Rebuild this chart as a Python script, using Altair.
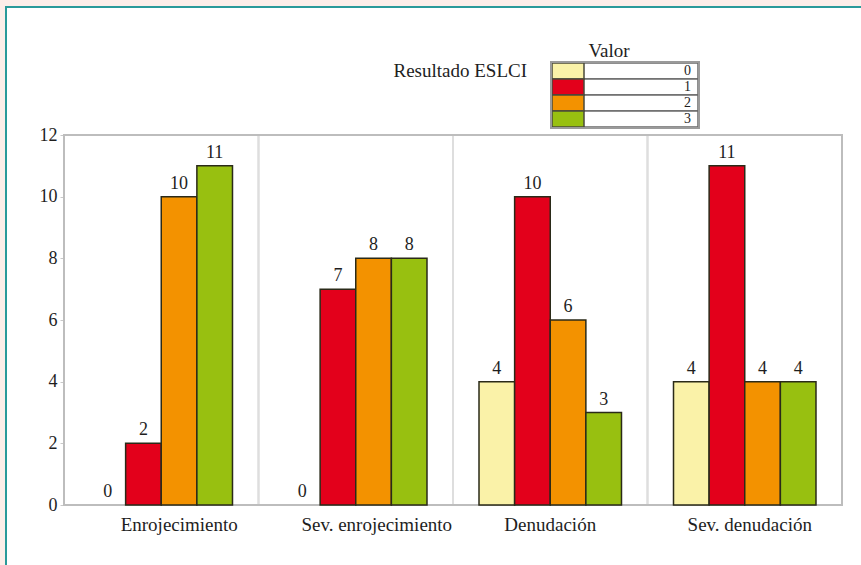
import altair as alt
import pandas as pd

# ESLCI result counts per category, one entry per value 0..3
categorias = ["Enrojecimiento", "Sev. enrojecimiento", "Denudación", "Sev. denudación"]
valores = [0, 1, 2, 3]
enrojecimiento = [0, 2, 10, 11]
sev_enrojecimiento = [0, 7, 8, 8]
denudacion = [4, 10, 6, 3]
sev_denudacion = [4, 11, 4, 4]
colores = ["#FAF2A8", "#E3001B", "#F39200", "#98C010"]
y_ticks = [0, 2, 4, 6, 8, 10, 12]

series = [enrojecimiento, sev_enrojecimiento, denudacion, sev_denudacion]
rows = []
for cat, serie in zip(categorias, series):
    for v, n in zip(valores, serie):
        rows.append({"categoria": cat, "valor": v, "n": n})
df = pd.DataFrame(rows)
legend_df = pd.DataFrame({"valor": valores})

W, H = 778, 370
FONT = "Liberation Serif"
INK = "#1e1e1e"

# small horizontal nudges of the category labels
label_shift = {"Enrojecimiento": 18, "Sev. enrojecimiento": 21, "Denudación": 0, "Sev. denudación": 5}
shift_expr = " : ".join(
    f"datum.value == '{k}' ? {v}" for k, v in label_shift.items()
) + " : 0"

x_enc = alt.X(
    "categoria:N", sort=categorias, title=None,
    scale=alt.Scale(paddingInner=0, paddingOuter=0),
    axis=alt.Axis(labelFont=FONT, labelFontSize=19, labelColor=INK, labelPadding=19,
                  labelAngle=0, labelAlign="center", bandPosition=0.5,
                  ticks=False, domain=False, grid=False,
                  labelOffset={"expr": shift_expr}),
)
xo_enc = alt.XOffset("valor:N", scale=alt.Scale(paddingOuter=0.73, paddingInner=0))
y_enc = alt.Y(
    "n:Q", title=None,
    scale=alt.Scale(domain=[0, 12], nice=False),
    axis=alt.Axis(values=y_ticks, labelFont=FONT, labelFontSize=18, labelColor=INK,
                  domain=False, grid=False, tickColor="#c8c8c8", tickSize=4,
                  labelPadding=3),
)
color_enc = alt.Color("valor:N", scale=alt.Scale(domain=valores, range=colores), legend=None)

one = alt.Data(values=[{}])

# page frame: pink margin and teal border line
pink_left = alt.Chart(one).mark_rect(color="#FCEEE9").encode(
    x=alt.value(-70), x2=alt.value(-58), y=alt.value(-140), y2=alt.value(H + 80))
pink_top = alt.Chart(one).mark_rect(color="#FCEEE9").encode(
    x=alt.value(-70), x2=alt.value(W + 40), y=alt.value(-140), y2=alt.value(-128))
teal_left = alt.Chart(one).mark_rect(color="#2A9A9A").encode(
    x=alt.value(-59), x2=alt.value(-57), y=alt.value(-129), y2=alt.value(H + 80))
teal_top = alt.Chart(one).mark_rect(color="#2A9A9A").encode(
    x=alt.value(-59), x2=alt.value(W + 40), y=alt.value(-129), y2=alt.value(-127))

# one outlined cell per category; the shared edges form the separators
cells = alt.Chart(pd.DataFrame({"categoria": categorias})).mark_rect(
    fill="white", fillOpacity=0, stroke="#dedede", strokeWidth=2
).encode(x=alt.X("categoria:N", sort=categorias), y=alt.value(0), y2=alt.value(H))

bars = alt.Chart(df).transform_filter("datum.n > 0").mark_bar(
    stroke="#2a2a18", strokeWidth=1.5
).encode(x=x_enc, xOffset=xo_enc, y=y_enc, color=color_enc)

labels = alt.Chart(df).mark_text(
    font=FONT, fontSize=18, color=INK, baseline="alphabetic", dy=-8
).encode(x=x_enc, xOffset=xo_enc, y=y_enc, text="n:Q")

frame = alt.Chart(one).mark_rect(fill="white", fillOpacity=0, stroke="#bdbdbd",
                                  strokeWidth=2).encode(
    x=alt.value(0), x2=alt.value(W), y=alt.value(0), y2=alt.value(H))

# legend box drawn from the value list
leg = alt.Chart(legend_df).transform_calculate(
    y0="-72 + 16 * datum.valor", y1="-56 + 16 * datum.valor", yt="-60 + 16 * datum.valor"
)
leg_rows = leg.mark_rect(fill="white", stroke="#6a6a6a", strokeWidth=1.5).encode(
    x=alt.value(488), x2=alt.value(634),
    y=alt.Y("y0:Q", scale=None, axis=None), y2="y1:Q",
)
leg_swatch = leg.mark_rect(stroke="#4a4a3a", strokeWidth=1.5).encode(
    x=alt.value(488), x2=alt.value(520),
    y=alt.Y("y0:Q", scale=None, axis=None), y2="y1:Q",
    color=color_enc,
)
leg_text = leg.mark_text(font=FONT, fontSize=14, color=INK, align="right",
                         baseline="alphabetic").encode(
    x=alt.value(627), y=alt.Y("yt:Q", scale=None, axis=None), text="valor:N",
)
leg_border = alt.Chart(one).mark_rect(fill="white", fillOpacity=0, stroke="#9a9a9a",
                                       strokeWidth=2).encode(
    x=alt.value(487), x2=alt.value(635), y=alt.value(-73), y2=alt.value(-7))
leg_title = alt.Chart(one).mark_text(font=FONT, fontSize=19, color=INK, align="center",
                                      baseline="alphabetic", text="Valor").encode(
    x=alt.value(545), y=alt.value(-78))
leg_name = alt.Chart(one).mark_text(font=FONT, fontSize=19, color=INK, align="right",
                                     baseline="alphabetic", text="Resultado ESLCI").encode(
    x=alt.value(463), y=alt.value(-58))

chart = alt.layer(
    pink_left, pink_top, teal_left, teal_top,
    cells, frame, bars, labels,
    leg_rows, leg_swatch, leg_text, leg_border, leg_title, leg_name,
).properties(
    width=W, height=H,
    background="white",
    padding={"left": 64, "top": 135, "right": 19, "bottom": 60},
    autosize=alt.AutoSizeParams(type="none"),
).configure_view(stroke=None)

chart.save("out.html", embed_options={"renderer": "svg", "actions": False})
